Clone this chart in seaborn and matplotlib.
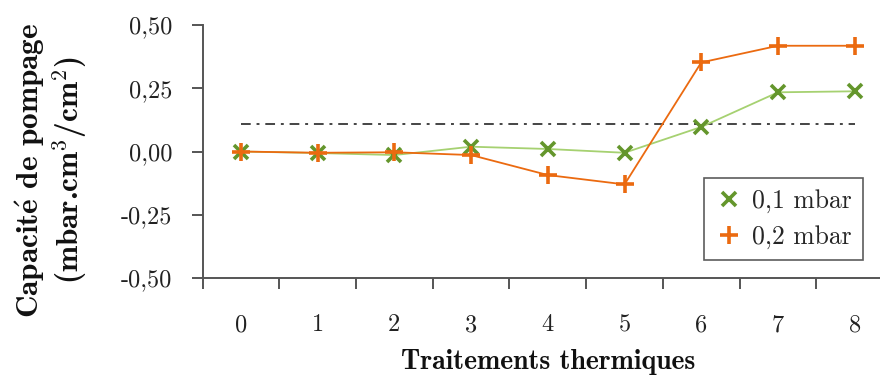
import numpy as np
import pandas as pd
import matplotlib
matplotlib.use("Agg")
import matplotlib.pyplot as plt
import seaborn as sns
from matplotlib.lines import Line2D
from matplotlib.ticker import FuncFormatter, FixedLocator

# Data
traitements = [0, 1, 2, 3, 4, 5, 6, 7, 8]
p01_mbar = [0.0, -0.006, -0.014, 0.019, 0.010, -0.005, 0.097, 0.234, 0.238]
p02_mbar = [0.0, -0.005, -0.003, -0.014, -0.093, -0.130, 0.352, 0.418, 0.418]
seuil = 0.109
yticks = [-0.5, -0.25, 0.0, 0.25, 0.5]

df = pd.DataFrame({"traitement": traitements, "p01": p01_mbar, "p02": p02_mbar})

sns.set_theme(style="white")
plt.rcParams["font.family"] = ["cmr10", "DejaVu Serif"]
plt.rcParams["mathtext.fontset"] = "cm"
plt.rcParams["axes.unicode_minus"] = False
plt.rcParams["axes.formatter.use_mathtext"] = False

fig = plt.figure(figsize=(8.8, 3.76), dpi=100)
ax = fig.add_axes([0.2302, 0.2606, 0.7698, 0.6729])

green_mk = "#64962c"
green_ln = "#a6d171"
orange = "#eb6a10"
axcol = "#555555"

sns.lineplot(data=df, x="traitement", y="p01", ax=ax, color=green_ln, lw=1.3,
             marker="x", markersize=10, markeredgewidth=2.6,
             markeredgecolor=green_mk, zorder=3)
sns.lineplot(data=df, x="traitement", y="p02", ax=ax, color=orange, lw=1.3,
             marker="+", markersize=13, markeredgewidth=2.6,
             markeredgecolor=orange, zorder=4)
ax.hlines(seuil, traitements[0], traitements[-1], colors="#444444",
          linestyles=(0, (5, 3, 1.5, 3)), lw=1.4, zorder=2)

ax.set_xlim(-0.5, 8.33)
ax.set_ylim(-0.5, 0.5)
ax.set_yticks(yticks)
ax.yaxis.set_major_formatter(FuncFormatter(lambda v, p: f"{v:.2f}".replace(".", ",")))
# labels at categories, tick marks at the boundaries
ax.xaxis.set_major_locator(FixedLocator(traitements))
ax.xaxis.set_minor_locator(FixedLocator(np.arange(-0.5, 8, 1.0)))
ax.set_xticklabels([str(t) for t in traitements])
ax.tick_params(axis="x", which="major", length=0, pad=26, labelsize=17.5, colors="#222222")
ax.tick_params(axis="x", which="minor", length=8, width=1.4, color=axcol, direction="out", bottom=True)
ax.tick_params(axis="y", length=8, width=1.4, color=axcol, direction="out", left=True,
               pad=14, labelsize=17.5, labelcolor="#222222")

for s in ["top", "right"]:
    ax.spines[s].set_visible(False)
for s in ["left", "bottom"]:
    ax.spines[s].set_color(axcol)
    ax.spines[s].set_linewidth(1.4)

ax.set_xlabel("Traitements thermiques", fontsize=20, color="#111111",
              fontfamily=["cmb10", "DejaVu Serif"])
ax.xaxis.set_label_coords(0.51, -0.28)
ax.xaxis.label.set_va("top")
ax.set_ylabel("Capacit$\\mathbf{\\acute{e}}$ de pompage\n(mbar.cm$^{\\mathbf{3}}$/cm$^{\\mathbf{2}}$)",
              fontsize=22.5, color="#111111", linespacing=1.15,
              fontfamily=["cmb10", "DejaVu Serif"])
ax.yaxis.set_label_coords(-0.166, 0.427)

handles = [Line2D([], [], ls="none", marker="x", markersize=10, markeredgewidth=2.6, color=green_mk),
           Line2D([], [], ls="none", marker="+", markersize=13, markeredgewidth=2.6, color=orange)]
leg = ax.legend(handles, ["0,1 mbar", "0,2 mbar"], loc="lower right",
                bbox_to_anchor=(0.975, 0.07), borderaxespad=0, fontsize=18.5,
                frameon=True, fancybox=False, handlelength=1.0, handletextpad=0.4,
                labelspacing=0.45, borderpad=0.45)
leg.get_frame().set_edgecolor("#333333")
leg.get_frame().set_linewidth(1.2)

fig.savefig("out.png", dpi=100)
